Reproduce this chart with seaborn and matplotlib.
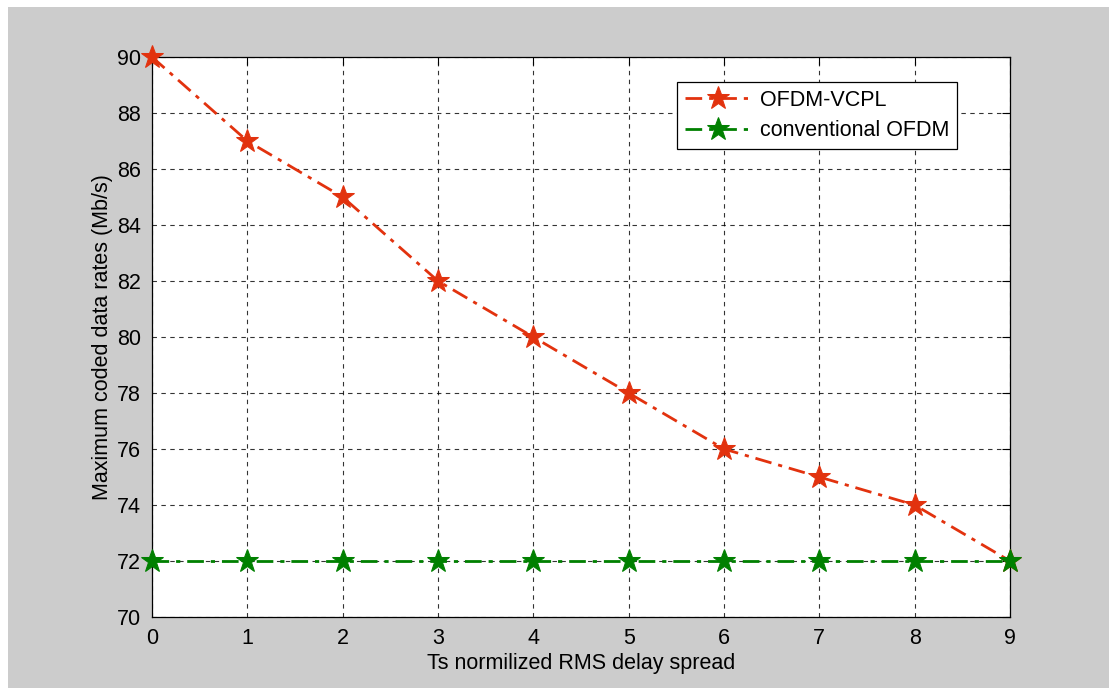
import numpy as np
import pandas as pd
import matplotlib
matplotlib.use("Agg")
import matplotlib.pyplot as plt
import seaborn as sns

# data
delay_spread = [0, 1, 2, 3, 4, 5, 6, 7, 8, 9]
vcpl_rates = [90, 87, 85, 82, 80, 78, 76, 75, 74, 72]
conv_rates = [72, 72, 72, 72, 72, 72, 72, 72, 72, 72]

series_names = ["OFDM-VCPL", "conventional OFDM"]
series_colors = ["#e2320e", "#008000"]

sns.set_style("white")
plt.rcParams["font.family"] = ["Liberation Sans", "DejaVu Sans"]
plt.rcParams["text.color"] = "black"
plt.rcParams["axes.labelcolor"] = "black"

df = pd.DataFrame({
    "x": delay_spread * 2,
    "rate": vcpl_rates + conv_rates,
    "series": [series_names[0]] * len(delay_spread) + [series_names[1]] * len(delay_spread),
})

fig = plt.figure(figsize=(11.09, 6.88), dpi=100, facecolor="white")
# gray figure panel, MATLAB style, with a thin white strip at left/top
fig.patches.append(plt.Rectangle((8 / 1109, 0), 1, 1 - 7 / 688,
                                 transform=fig.transFigure, facecolor="#cccccc",
                                 edgecolor="none", zorder=-10))
ax = fig.add_axes([152 / 1109, 1 - 617 / 688, (1010 - 152) / 1109, (617 - 57) / 688])
ax.set_facecolor("white")

dash_dot = (0, (6, 2.5, 1.5, 2.5))
for name, color in zip(series_names, series_colors):
    sub = df[df["series"] == name]
    sns.lineplot(data=sub, x="x", y="rate", ax=ax, color=color, linewidth=2,
                 linestyle=dash_dot, marker="*", markersize=17,
                 markeredgecolor=color, markerfacecolor=color,
                 label=name, clip_on=False, zorder=3)

ax.set_xlim(0, 9)
ax.set_ylim(70, 90)
ax.set_xticks(range(0, 10))
ax.set_yticks(range(70, 91, 2))
ax.grid(True, color="black", linestyle=(0, (4, 4)), linewidth=0.8, alpha=0.8)
ax.tick_params(direction="in", top=True, right=True, length=6, width=0.8,
               labelsize=15.5, colors="black", pad=8)
for s in ax.spines.values():
    s.set_color("black")
    s.set_linewidth(0.9)

ax.set_xlabel("Ts normilized RMS delay spread", fontsize=15.5, labelpad=3)
ax.set_ylabel("Maximum coded data rates (Mb/s)", fontsize=15.5, labelpad=3)

leg = ax.legend(loc="upper right", bbox_to_anchor=((957 - 152) / 858, 1 - (82 - 57) / 560),
                bbox_transform=ax.transAxes, fontsize=15.5, frameon=True, fancybox=False,
                edgecolor="black", framealpha=1, handlelength=3.1, handletextpad=0.4,
                borderpad=0.35, labelspacing=0.45, borderaxespad=0)
leg.get_frame().set_linewidth(0.9)

fig.savefig("out.png", dpi=100, facecolor=fig.get_facecolor())
